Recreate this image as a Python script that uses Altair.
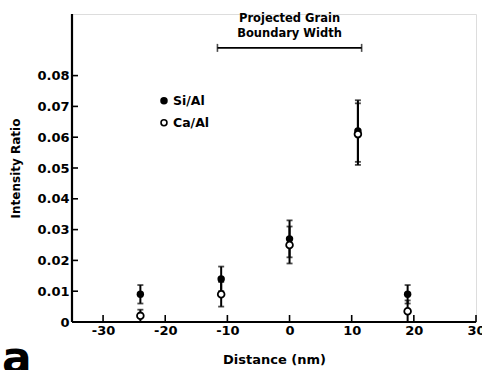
import altair as alt
import pandas as pd

# Data
distance = [-24, -11, 0, 11, 19]
si_al = [0.009, 0.014, 0.027, 0.062, 0.009]
si_lo = [0.006, 0.010, 0.021, 0.052, 0.006]
si_hi = [0.012, 0.018, 0.033, 0.072, 0.012]
ca_al = [0.002, 0.009, 0.025, 0.061, 0.0035]
ca_lo = [0.000, 0.005, 0.019, 0.051, 0.000]
ca_hi = [0.004, 0.013, 0.031, 0.071, 0.007]

x_ticks = [-30, -20, -10, 0, 10, 20, 30]
y_ticks = [0, 0.01, 0.02, 0.03, 0.04, 0.05, 0.06, 0.07, 0.08]
boundary = [-11.6, 11.6]
boundary_y = 0.089
legend_labels = ["Si/Al", "Ca/Al"]
legend_x = -20.2
legend_y = [0.0718, 0.0647]

FONT = "DejaVu Sans"
XD = [-35, 30]
YD = [0, 0.1]

si = pd.DataFrame({"x": distance, "y": si_al, "lo": si_lo, "hi": si_hi})
ca = pd.DataFrame({"x": distance, "y": ca_al, "lo": ca_lo, "hi": ca_hi})

xs = alt.Scale(domain=XD, nice=False, zero=False)
ys = alt.Scale(domain=YD, nice=False, zero=False)

xaxis = alt.Axis(values=x_ticks, ticks=False, domain=False, grid=False,
                 labelFont=FONT, labelFontWeight="bold", labelFontSize=13,
                 labelColor="black", labelPadding=2, labelOverlap=False,
                 labelExpr="datum.value < 0 ? '-' + (-datum.value) : '' + datum.value",
                 title="Distance (nm)", titleFont=FONT, titleFontWeight="bold",
                 titleFontSize=13, titleColor="black", titlePadding=16,
                 labelFlush=False)
yaxis = alt.Axis(values=y_ticks, ticks=False, domain=False, grid=False,
                 labelFont=FONT, labelFontWeight="bold", labelFontSize=13,
                 labelColor="black", labelPadding=3, labelOverlap=False,
                 labelExpr="datum.value == 0 ? '0' : format(datum.value, '.2f')",
                 title="Intensity Ratio", titleFont=FONT, titleFontWeight="bold",
                 titleFontSize=12, titleColor="black", titlePadding=14)


def X(field="x"):
    return alt.X(f"{field}:Q", scale=xs, axis=xaxis)


def Y(field="y"):
    return alt.Y(f"{field}:Q", scale=ys, axis=yaxis)


# Axis lines
x_line = alt.Chart(pd.DataFrame({"x": [XD[0]], "x2": [XD[1]], "y": [0]})).mark_rule(
    color="black", strokeWidth=2.2).encode(x=X(), x2="x2:Q", y=Y())
y_line = alt.Chart(pd.DataFrame({"x": [XD[0]], "y": [0], "y2": [YD[1]]})).mark_rule(
    color="black", strokeWidth=2.2).encode(x=X(), y=Y(), y2="y2:Q")

# Inward ticks
xt = alt.Chart(pd.DataFrame({"x": x_ticks})).mark_rule(color="black", strokeWidth=1.6).encode(
    x=X(), y=alt.value(308), y2=alt.value(301))
yt = alt.Chart(pd.DataFrame({"y": y_ticks[1:]})).mark_rule(color="black", strokeWidth=1.6).encode(
    y=Y(), x=alt.value(0), x2=alt.value(6))


def errbars(df):
    bar = alt.Chart(df).mark_rule(color="black", strokeWidth=2).encode(
        x=X(), y=Y("lo"), y2="hi:Q")
    cap_lo = alt.Chart(df).mark_tick(color="black", orient="horizontal", size=6, thickness=1.8).encode(
        x=X(), y=Y("lo"))
    cap_hi = alt.Chart(df).mark_tick(color="black", orient="horizontal", size=6, thickness=1.8).encode(
        x=X(), y=Y("hi"))
    return [bar, cap_lo, cap_hi]


si_pts = alt.Chart(si).mark_point(filled=True, color="black", size=55, opacity=1).encode(
    x=X(), y=Y())
ca_pts = alt.Chart(ca).mark_point(filled=True, fill="white", stroke="black", strokeWidth=1.8,
                                  size=45, opacity=1).encode(x=X(), y=Y())

# Legend
leg = pd.DataFrame({"x": [legend_x, legend_x], "y": legend_y, "label": legend_labels,
                    "filled": ["black", "white"]})
leg_pts = alt.Chart(leg).mark_point(filled=True, stroke="black", strokeWidth=1.6, size=35, opacity=1).encode(
    x=X(), y=Y(), fill=alt.Fill("filled:N", scale=None, legend=None))
leg_txt = alt.Chart(leg).mark_text(align="left", dx=9, font=FONT, fontWeight="bold", fontSize=12.5,
                                   color="black").encode(x=X(), y=Y(), text="label:N")

# Projected grain boundary bracket
bd = pd.DataFrame({"x": [boundary[0]], "x2": [boundary[1]], "y": [boundary_y]})
b_line = alt.Chart(bd).mark_rule(color="black", strokeWidth=1.6).encode(
    x=X(), x2="x2:Q", y=Y())
b_ends = alt.Chart(pd.DataFrame({"x": boundary, "y": [boundary_y] * 2})).mark_tick(
    color="black", orient="vertical", size=8, thickness=1.6).encode(x=X(), y=Y())
b_text = alt.Chart(pd.DataFrame({"x": [0, 0], "y": [0.0984, 0.0935],
                                 "t": ["Projected Grain", "Boundary Width"]})).mark_text(
    font=FONT, fontWeight="bold", fontSize=11.5, color="black").encode(
    x=X(), y=Y(), text="t:N")

panel = alt.Chart(pd.DataFrame({"t": ["a"]})).mark_text(
    font=FONT, fontWeight="bold", fontSize=44, color="black", align="left", baseline="middle").encode(
    x=alt.value(-70), y=alt.value(346), text="t:N")

chart = alt.layer(
    x_line, y_line, xt, yt,
    *errbars(si), *errbars(ca), si_pts, ca_pts,
    leg_pts, leg_txt, b_line, b_ends, b_text, panel
).properties(
    width=404, height=308, autosize="none",
    padding={"left": 72, "top": 14, "right": 6, "bottom": 48},
).configure_view(stroke=None).configure(background="white")

chart.save("out.html", embed_options={"renderer": "svg", "actions": False})
